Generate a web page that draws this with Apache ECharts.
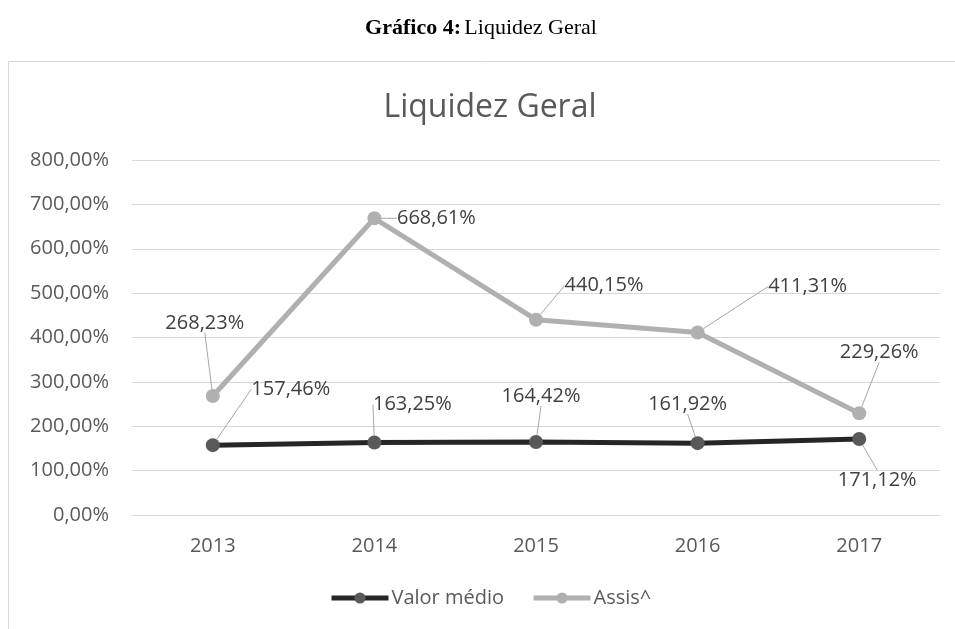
<!DOCTYPE html>
<html><head><meta charset="utf-8">
<script src="https://cdn.jsdelivr.net/npm/echarts@6/dist/echarts.min.js"></script>
<style>html,body{margin:0;padding:0;background:#fff}#c{width:955px;height:629px}</style>
</head><body><div id="c"></div>
<script>
const categories = ['2013', '2014', '2015', '2016', '2017'];
const valorMedio = [157.46, 163.25, 164.42, 161.92, 171.12];
const assis = [268.23, 668.61, 440.15, 411.31, 229.26];
const seriesNames = ['Valor médio', 'Assis^'];
const yMin = 0, yMax = 800, yInterval = 100;

// label placement offsets (style only)
const assisOffsets = [[-8, -73], [62, 0], [68, -34], [110, -46], [20, -61]];
const valorOffsets = [[78, -56], [38, -38], [5, -46], [-10, -39], [18, 41]];

const fmt = v => Number(v).toFixed(2).replace('.', ',') + '%';
const font = '"Open Sans", "Noto Sans", sans-serif';
const fs = 20;

const chart = echarts.init(document.getElementById('c'));
chart.setOption({
  animation: false,
  backgroundColor: '#fff',
  graphic: [
    {
      type: 'rect', shape: { x: 8.5, y: 61.5, width: 980, height: 600 },
      style: { fill: 'none', stroke: '#d9d9d9', lineWidth: 1 }, z: -1, silent: true
    },
    {
      type: 'text', x: 481, y: 28, silent: true,
      style: {
        text: '{b|Gráfico 4:} {r|Liquidez Geral}', align: 'center', verticalAlign: 'middle',
        rich: {
          b: { fontFamily: '"Liberation Serif", serif', fontWeight: 'bold', fontSize: 22, fill: '#000' },
          r: { fontFamily: '"Liberation Serif", serif', fontWeight: 'normal', fontSize: 22, fill: '#000' }
        }
      }
    },
    {
      type: 'text', x: 490, y: 108, silent: true,
      style: { text: 'Liquidez Geral', align: 'center', verticalAlign: 'middle',
        fontFamily: font, fontSize: 32, fill: '#595959' }
    }
  ],
  legend: {
    bottom: 16, left: 324,
    itemWidth: 57, itemHeight: 14, itemGap: 27,
    lineStyle: { width: 5 },
    textStyle: { fontFamily: font, fontSize: fs, color: '#595959', padding: [0, 0, 0, -2] },
    data: seriesNames
  },
  grid: { left: 132, right: 15, top: 160, bottom: 114 },
  xAxis: {
    type: 'category', data: categories, boundaryGap: true,
    axisLine: { lineStyle: { color: '#d9d9d9', width: 1 } },
    axisTick: { show: false },
    axisLabel: { color: '#595959', fontFamily: font, fontSize: fs, margin: 21 },
    splitLine: { show: false }
  },
  yAxis: {
    type: 'value', min: yMin, max: yMax, interval: yInterval,
    axisLine: { show: false }, axisTick: { show: false },
    axisLabel: { color: '#595959', fontFamily: font, fontSize: fs, margin: 23, formatter: fmt },
    splitLine: { lineStyle: { color: '#d9d9d9', width: 1.2 } }
  },
  series: [
    {
      name: seriesNames[0], type: 'line', data: valorMedio,
      symbol: 'circle', symbolSize: 14,
      lineStyle: { color: '#262626', width: 5 },
      itemStyle: { color: '#595959' },
      z: 3,
      label: { show: true, position: 'inside', formatter: p => fmt(p.value),
        color: '#404040', fontFamily: font, fontSize: fs },
      labelLine: { show: true, lineStyle: { color: '#a6a6a6', width: 1 } },
      labelLayout: p => ({ dx: valorOffsets[p.dataIndex][0], dy: valorOffsets[p.dataIndex][1] })
    },
    {
      name: seriesNames[1], type: 'line', data: assis,
      symbol: 'circle', symbolSize: 14,
      lineStyle: { color: '#b0b0b0', width: 5 },
      itemStyle: { color: '#b0b0b0' },
      z: 2,
      label: { show: true, position: 'inside', formatter: p => fmt(p.value),
        color: '#404040', fontFamily: font, fontSize: fs },
      labelLine: { show: true, lineStyle: { color: '#a6a6a6', width: 1 } },
      labelLayout: p => ({ dx: assisOffsets[p.dataIndex][0], dy: assisOffsets[p.dataIndex][1] })
    }
  ]
});
</script></body></html>
